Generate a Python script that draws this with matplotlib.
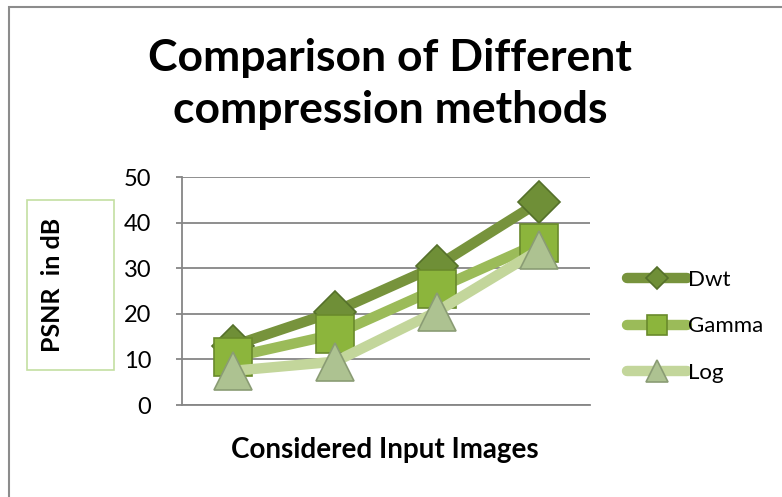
import matplotlib
matplotlib.use('Agg')  # noqa

import matplotlib.pyplot as plt  # noqa
from matplotlib.patches import Rectangle  # noqa

# PSNR (dB) for each considered input image
images = [1, 2, 3, 4]
dwt = [13.0, 20.5, 30.5, 44.5]
gamma = [10.5, 15.5, 25.5, 35.5]
log = [7.5, 9.5, 20.5, 34.0]

series = [
    # name, values, marker, size, line colour, face, edge
    ('Dwt', dwt, 'D', 21, '#77933c', '#6f8f37', '#55702a'),
    ('Gamma', gamma, 's', 27, '#9bbb59', '#8cb53c', '#6a8a2c'),
    ('Log', log, '^', 28, '#c3d69b', '#adc291', '#8a9c74'),
]

plt.rcParams['font.family'] = ['Lato', 'DejaVu Sans']

fig = plt.figure(figsize=(7.82, 4.97), dpi=100)
ax = fig.add_axes([182 / 782, 1 - 405 / 497, 408 / 782, 228 / 497])

for name, vals, marker, ms, lc, fc, ec in series:
    ax.plot(images, vals, color=lc, lw=7.5, marker=marker, ms=ms,
            markerfacecolor=fc, markeredgecolor=ec, markeredgewidth=1.2,
            solid_capstyle='round', label=name, clip_on=False)

ax.set_xlim(0.5, 4.5)
ax.set_ylim(0, 50)
ax.set_yticks(range(0, 51, 10))
ax.set_xticks([])
ax.grid(axis='y', color='#868686', lw=1.3)
ax.set_axisbelow(True)
ax.tick_params(axis='y', length=4, width=1.3, color='#868686',
               labelsize=17, pad=18)
for side in ('top', 'right'):
    ax.spines[side].set_visible(False)
for side in ('left', 'bottom'):
    ax.spines[side].set_color('#868686')
    ax.spines[side].set_linewidth(1.3)

ax.legend(loc='center left', bbox_to_anchor=(1.09, 0.345), frameon=False,
          fontsize=16, handlelength=2.7, handletextpad=0.05,
          labelspacing=1.2, markerscale=0.55, borderaxespad=0, borderpad=0)

fig.text(390 / 782, 1 - 84 / 497, 'Comparison of Different\ncompression methods',
         ha='center', va='center', fontsize=32, fontweight='bold',
         linespacing=1.38)
fig.text(385 / 782, 1 - 450 / 497, 'Considered Input Images',
         ha='center', va='center', fontsize=20, fontweight='bold')

# y label sits in its own bordered box
fig.text(53 / 782, 1 - 285 / 497, 'PSNR  in dB', rotation=90,
         ha='center', va='center', fontsize=18, fontweight='bold')
fig.patches.append(Rectangle((27 / 782, 1 - 370 / 497), 87 / 782, 170 / 497,
                             transform=fig.transFigure, fill=False,
                             edgecolor='#c4dfa2', lw=1.2))

# outer chart border
fig.patches.append(Rectangle((9 / 782, -0.1), 1.2, 1.1 - 7 / 497,
                             transform=fig.transFigure, fill=False,
                             edgecolor='#8c8c8c', lw=1.5))

fig.savefig('out.png', dpi=100)
